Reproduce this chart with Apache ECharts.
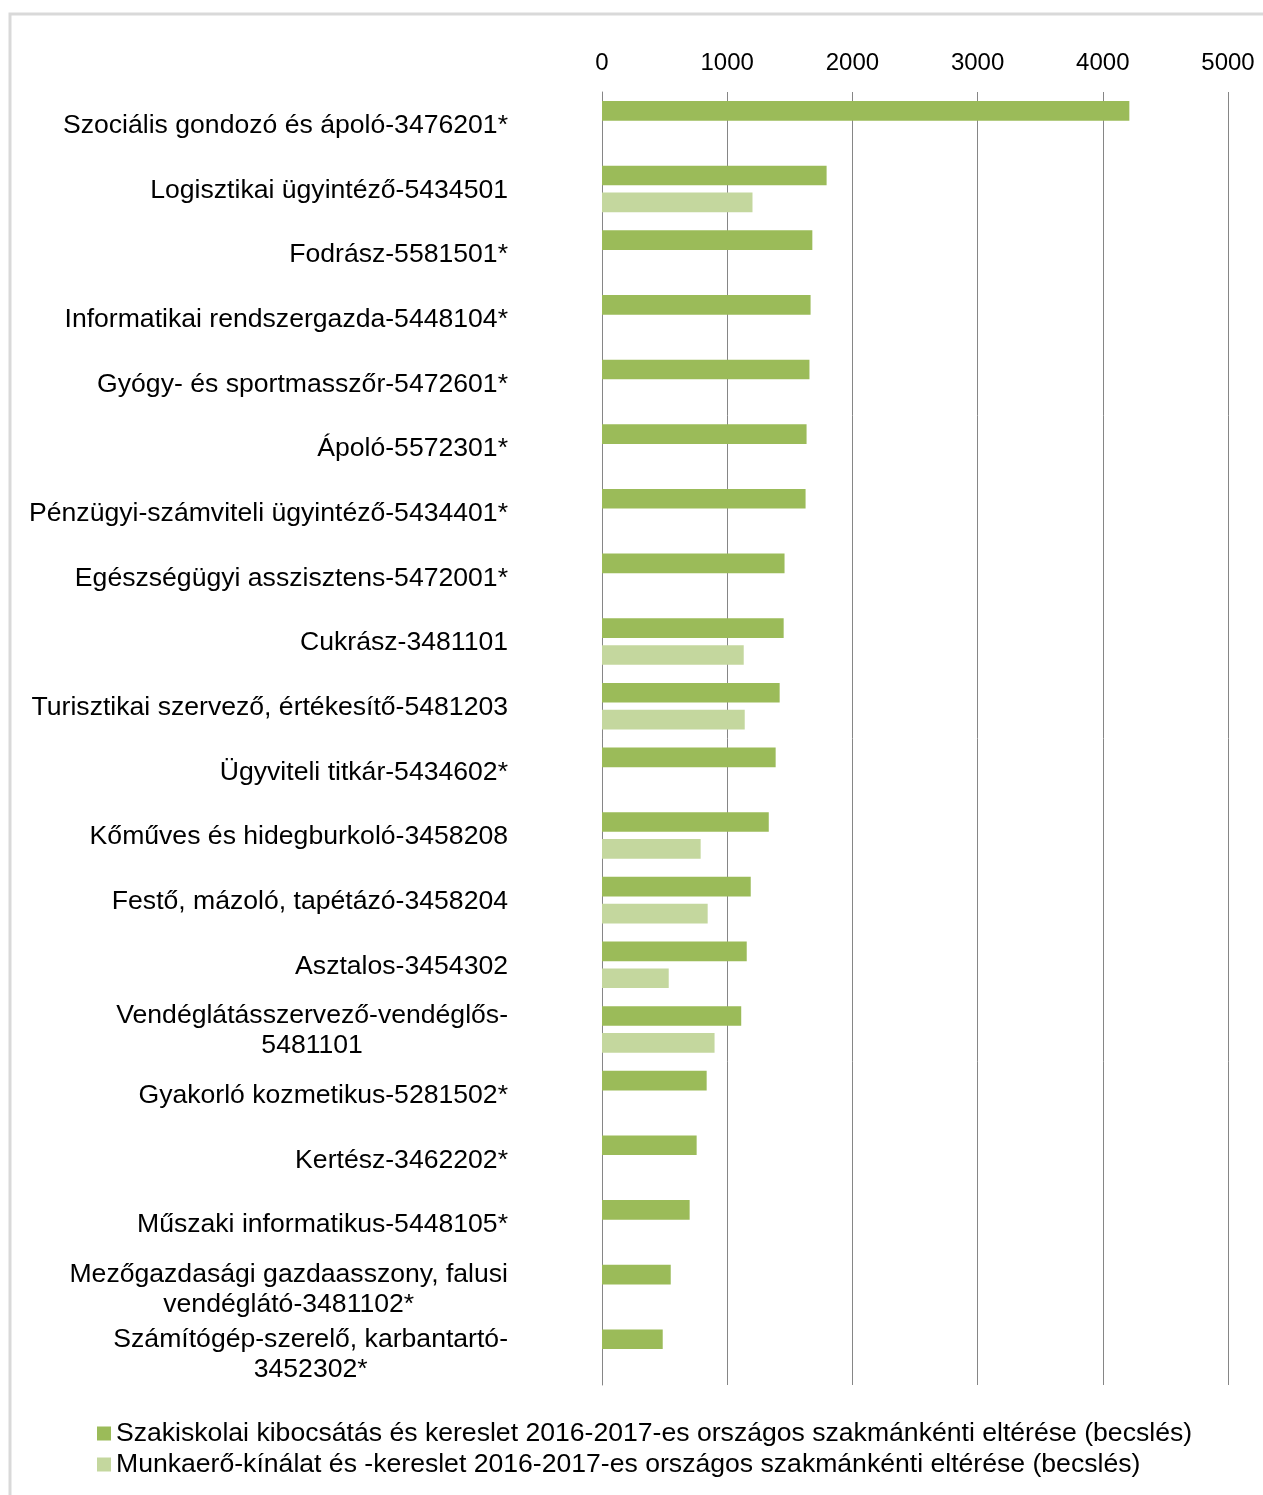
<!DOCTYPE html>
<html>
<head>
<meta charset="utf-8">
<script src="https://cdn.jsdelivr.net/npm/echarts@6/dist/echarts.min.js"></script>
<style>
html,body{margin:0;padding:0;background:#fff;}
#c{width:1263px;height:1495px;}
</style>
</head>
<body>
<div id="c"></div>
<script>
const categories = [
  "Szociális gondozó és ápoló-3476201*",
  "Logisztikai ügyintéző-5434501",
  "Fodrász-5581501*",
  "Informatikai rendszergazda-5448104*",
  "Gyógy- és sportmasszőr-5472601*",
  "Ápoló-5572301*",
  "Pénzügyi-számviteli ügyintéző-5434401*",
  "Egészségügyi asszisztens-5472001*",
  "Cukrász-3481101",
  "Turisztikai szervező, értékesítő-5481203",
  "Ügyviteli titkár-5434602*",
  "Kőműves és hidegburkoló-3458208",
  "Festő, mázoló, tapétázó-3458204",
  "Asztalos-3454302",
  "Vendéglátásszervező-vendéglős-\n5481101",
  "Gyakorló kozmetikus-5281502*",
  "Kertész-3462202*",
  "Műszaki informatikus-5448105*",
  "Mezőgazdasági gazdaasszony, falusi\nvendéglátó-3481102*",
  "Számítógép-szerelő, karbantartó-\n3452302*"
];
const seriesNames = [
  "Szakiskolai kibocsátás és kereslet 2016-2017-es országos szakmánkénti eltérése (becslés)",
  "Munkaerő-kínálat és -kereslet 2016-2017-es országos szakmánkénti eltérése (becslés)"
];
const schoolValues = [4212, 1794, 1680, 1666, 1657, 1634, 1626, 1458, 1451, 1419, 1387, 1332, 1188, 1156, 1112, 836, 756, 700, 549, 485];
const laborValues = [null, 1202, null, null, null, null, null, null, 1132, 1140, null, 788, 844, 533, 899, null, null, null, null, null];
const xTicks = [0, 1000, 2000, 3000, 4000, 5000];

const FONT = "'Liberation Sans', Arial, sans-serif";
const FS = 26.6;
const chart = echarts.init(document.getElementById('c'), null, {renderer: 'canvas'});
chart.setOption({
  backgroundColor: '#ffffff',
  animation: false,
  graphic: [{
    type: 'rect',
    shape: {x: 10, y: 14, width: 1400, height: 1600},
    style: {fill: 'none', stroke: '#D9D9D9', lineWidth: 3},
    silent: true, z: -1
  }],
  grid: {left: 602, right: 35, top: 92, bottom: 110, containLabel: false},
  legend: {
    orient: 'vertical',
    left: 97, top: 1420, padding: 0,
    itemWidth: 14, itemHeight: 14, itemGap: 4,
    icon: 'rect',
    textStyle: {fontFamily: FONT, fontSize: FS, color: '#000'},
    data: seriesNames
  },
  xAxis: {
    type: 'value',
    position: 'top',
    min: xTicks[0], max: xTicks[xTicks.length - 1], interval: 1000,
    axisLine: {show: false},
    axisTick: {show: false},
    axisLabel: {fontFamily: FONT, fontSize: 24, color: '#000', margin: 17,
      formatter: function (v) { return String(v); }},
    splitLine: {show: true, lineStyle: {color: '#868686', width: 1}}
  },
  yAxis: {
    type: 'category',
    inverse: true,
    data: categories,
    axisLine: {show: true, lineStyle: {color: '#868686', width: 1}},
    axisTick: {show: false},
    axisLabel: {
      fontFamily: FONT, fontSize: FS, color: '#000', margin: 94,
      lineHeight: 30,
      formatter: function (v) {
        return v.split('\n').map(function (l) { return '{c|' + l + '}'; }).join('\n');
      },
      rich: {c: {align: 'center', fontFamily: FONT, fontSize: FS, color: '#000', lineHeight: 30, padding: [3, 0, 0, 0]}}
    }
  },
  series: [
    {
      name: seriesNames[0], type: 'bar', data: schoolValues,
      itemStyle: {color: '#9BBB59'},
      barCategoryGap: '28%', barGap: '37%'
    },
    {
      name: seriesNames[1], type: 'bar', data: laborValues,
      itemStyle: {color: '#C4D79E'},
      barCategoryGap: '28%', barGap: '37%'
    }
  ]
});
</script>
</body>
</html>
